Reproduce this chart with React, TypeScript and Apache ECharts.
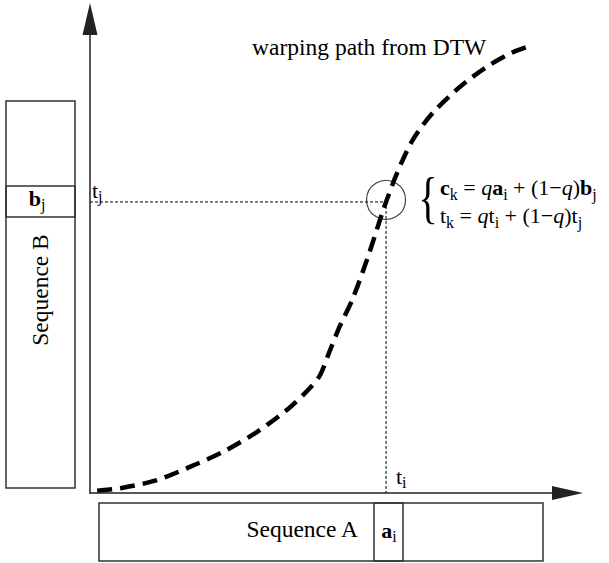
import React, { useEffect, useRef } from 'react';
import * as echarts from 'echarts';

// warping path from DTW: time index on Sequence A (x) vs Sequence B (y), 0..100 scale
const pathTimeA: number[] = [1.5, 6.9, 14.0, 20.9, 27.9, 35.0, 41.9, 46.1, 48.2, 50.3, 52.4, 54.9, 58.0, 61.4, 62.0, 64.3, 67.6, 71.8, 77.5, 83.1, 88.6, 92.8];
const pathTimeB: number[] = [0.5, 1.1, 2.7, 5.5, 8.7, 12.9, 18.1, 22.2, 24.9, 30.2, 35.4, 40.7, 49.2, 59.7, 61.4, 67.5, 74.5, 80.2, 85.7, 89.9, 93.0, 94.5];
// matched pair (t_i, t_j)
const matchTi = 62.0;
const matchTj = 61.4;
const pathName = 'warping path from DTW';
const seqALabel = 'Sequence A';
const seqBLabel = 'Sequence B';

const SERIF = 'Liberation Serif';

function richStyles(fs: number, subFs: number, subPad: number) {
  return {
    n: { fontSize: fs, fontFamily: SERIF, fill: '#000' },
    b: { fontSize: fs, fontFamily: SERIF, fontWeight: 'bold', fill: '#000' },
    it: { fontSize: fs, fontFamily: SERIF, fontStyle: 'italic', fill: '#000' },
    s: { fontSize: subFs, fontFamily: SERIF, fill: '#000', padding: [subPad, 0, 0, 0] },
  };
}

export default function App() {
  const ref = useRef<HTMLDivElement>(null);
  useEffect(() => {
    if (!ref.current) return;
    const chart = echarts.init(ref.current, undefined, { renderer: 'svg' });
    const axisCommon = {
      type: 'value',
      min: 0,
      max: 100,
      axisTick: { show: false },
      axisLabel: { show: false },
      splitLine: { show: false },
    };
    const rich = richStyles(22, 16, 13);
    const boxStyle = { fill: 'none', stroke: '#333', lineWidth: 1.5 };
    chart.setOption({
      animation: false,
      backgroundColor: '#ffffff',
      grid: { left: 90, top: 19, width: 477.5, height: 474, outerBoundsMode: 'none' },
      xAxis: {
        ...axisCommon,
        axisLine: {
          show: true,
          onZero: false,
          symbol: ['none', 'triangle'],
          symbolSize: [14, 31],
          lineStyle: { color: '#222', width: 1.5 },
        },
      },
      yAxis: {
        ...axisCommon,
        axisLine: {
          show: true,
          onZero: false,
          symbol: ['none', 'triangle'],
          symbolSize: [15, 32],
          lineStyle: { color: '#222', width: 1.5 },
        },
      },
      series: [
        {
          type: 'line',
          name: 'projection',
          data: [[0, matchTj], [matchTi, matchTj], [matchTi, 0]],
          symbol: 'none',
          silent: true,
          lineStyle: { color: '#000', width: 1, type: [3, 2] },
          z: 2,
        },
        {
          type: 'line',
          name: pathName,
          data: pathTimeA.map((t, i) => [t, pathTimeB[i]]),
          symbol: 'none',
          smooth: 0.3,
          silent: true,
          lineStyle: { color: '#000', width: 4.5, type: [15, 8], cap: 'butt' },
          z: 3,
        },
        {
          type: 'scatter',
          name: 'match',
          data: [[matchTi, matchTj]],
          symbol: 'circle',
          symbolSize: 39,
          symbolOffset: [0, -2],
          silent: true,
          itemStyle: { color: 'rgba(0,0,0,0)', borderColor: '#111', borderWidth: 1.2 },
          z: 4,
        },
      ],
      graphic: [
        // Sequence B box and its b_j cell
        { type: 'rect', shape: { x: 6, y: 101, width: 69, height: 387 }, style: boxStyle },
        { type: 'rect', shape: { x: 6, y: 186, width: 69, height: 31 }, style: boxStyle },
        // Sequence A box and its a_i cell
        { type: 'rect', shape: { x: 99, y: 503, width: 444, height: 58 }, style: boxStyle },
        { type: 'rect', shape: { x: 374, y: 503, width: 29, height: 58 }, style: boxStyle },
        {
          type: 'text', x: 252, y: 47,
          style: { text: pathName, fontSize: 23.5, fontFamily: SERIF, fill: '#000', align: 'left', verticalAlign: 'middle' },
        },
        {
          type: 'text', x: 358, y: 529,
          style: { text: seqALabel, fontSize: 23.5, fontFamily: SERIF, fill: '#000', align: 'right', verticalAlign: 'middle' },
        },
        {
          type: 'text', x: 40, y: 290, rotation: Math.PI / 2,
          style: { text: seqBLabel, fontSize: 23.5, fontFamily: SERIF, fill: '#000', align: 'center', verticalAlign: 'middle' },
        },
        {
          type: 'text', x: 389, y: 530,
          style: { text: '{b|a}{s|i}', rich, align: 'center', verticalAlign: 'middle' },
        },
        {
          type: 'text', x: 37, y: 198,
          style: { text: '{b|b}{s|j}', rich, align: 'center', verticalAlign: 'middle' },
        },
        {
          type: 'text', x: 92, y: 190,
          style: { text: '{n|t}{s|j}', rich, align: 'left', verticalAlign: 'middle' },
        },
        {
          type: 'text', x: 396, y: 476,
          style: { text: '{n|t}{s|i}', rich, align: 'left', verticalAlign: 'middle' },
        },
        {
          type: 'text', x: 428, y: 197, scaleX: 0.7,
          style: { text: '{', fontSize: 58, fontFamily: SERIF, fill: '#000', align: 'center', verticalAlign: 'middle' },
        },
        {
          type: 'text', x: 440, y: 187.5,
          style: { text: '{b|c}{s|k}{n| = }{it|q}{b|a}{s|i}{n| + (1−}{it|q}{n|)}{b|b}{s|j}', rich, align: 'left', verticalAlign: 'middle' },
        },
        {
          type: 'text', x: 440, y: 215.5,
          style: { text: '{n|t}{s|k}{n| = }{it|q}{n|t}{s|i}{n| + (1−}{it|q}{n|)t}{s|j}', rich, align: 'left', verticalAlign: 'middle' },
        },
      ],
    });
    return () => chart.dispose();
  }, []);
  return (
    <div
      ref={ref}
      style={{ position: 'absolute', left: 0, top: 0, width: 609, height: 563, background: '#fff' }}
    />
  );
}
